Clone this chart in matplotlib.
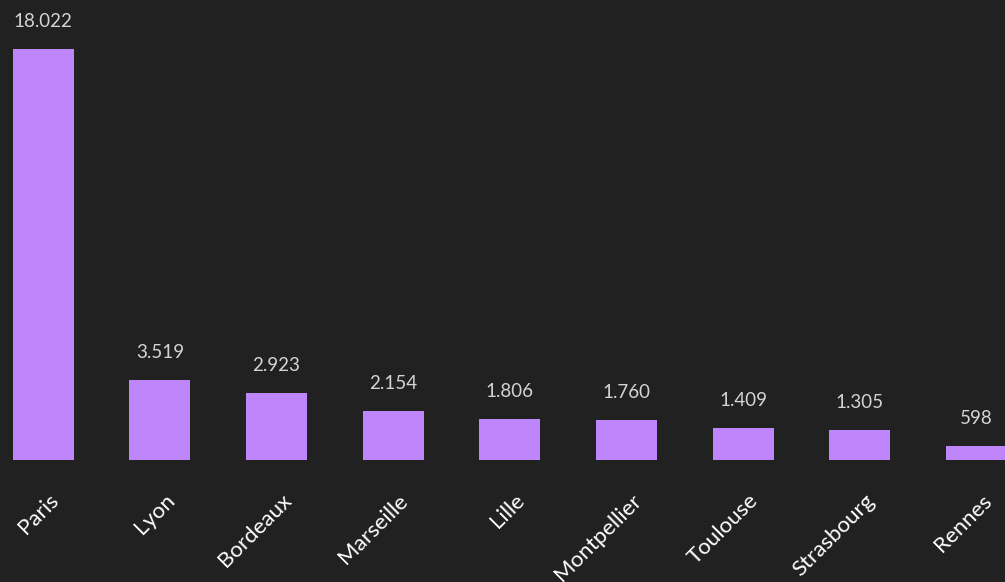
import matplotlib.pyplot as plt
import matplotlib.transforms as mtransforms
plt.switch_backend("agg")

cities = ["Paris", "Lyon", "Bordeaux", "Marseille", "Lille",
          "Montpellier", "Toulouse", "Strasbourg", "Rennes"]
values = [18022, 3519, 2923, 2154, 1806, 1760, 1409, 1305, 598]
value_labels = ["18.022", "3.519", "2.923", "2.154", "1.806",
                "1.760", "1.409", "1.305", "598"]

bg = "#212121"
bar_color = "#bf86fc"

plt.rcParams["font.family"] = ["Lato", "DejaVu Sans"]

fig = plt.figure(figsize=(10.05, 5.82), dpi=100, facecolor=bg)
ax = fig.add_axes([0, 122 / 582, 1, 460 / 582])
ax.set_facecolor(bg)

x = range(len(cities))
ax.bar(x, values, width=0.523, color=bar_color)

for xi, v, lab in zip(x, values, value_labels):
    ax.annotate(lab, (xi, v), xytext=(0, 16), textcoords="offset points",
                ha="center", va="baseline", color="#d4d4d4", fontsize=13.5)

ax.set_xlim(-0.37, 8.245)
ax.set_ylim(0, 20171)
ax.set_yticks([])
ax.set_xticks(list(x))
ax.set_xticklabels(cities, rotation=45, ha="right", va="center",
                   rotation_mode="anchor", color="white", fontsize=16)
ax.tick_params(axis="x", length=0, pad=27)
offset = mtransforms.ScaledTranslation(0.12, 0, fig.dpi_scale_trans)
for lbl in ax.get_xticklabels():
    lbl.set_transform(lbl.get_transform() + offset)

for s in ax.spines.values():
    s.set_visible(False)

fig.savefig("out.png", dpi=100, facecolor=bg)
